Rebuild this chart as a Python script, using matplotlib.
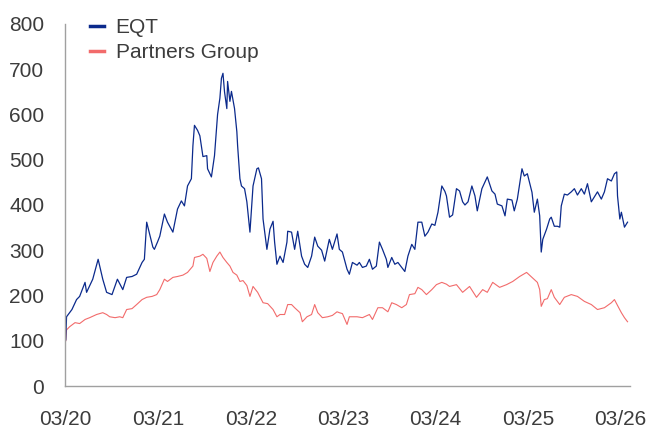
import matplotlib
matplotlib.use('Agg')
import matplotlib.pyplot as plt

# months since 03/2020
eqt_t = [0.0, 0.1, 0.8, 1.4, 1.8, 2.5, 2.7, 3.5, 4.2, 4.4, 4.8, 5.3, 6.0, 6.7, 7.4, 7.9,
         8.6, 9.2, 9.9, 10.2, 10.5, 10.9, 11.3, 11.5, 11.9, 12.2, 12.8, 13.2, 13.9, 14.5,
         15.0, 15.4, 15.8, 16.3, 16.5, 16.7, 17.1, 17.4, 17.8, 18.3, 18.4, 18.9, 19.3,
         19.6, 19.7, 20.0, 20.2, 20.4, 20.6, 20.9, 21.0, 21.3, 21.5, 21.9, 22.2, 22.3,
         22.6, 22.8, 23.2, 23.5, 23.9, 24.3, 24.8, 25.0, 25.4, 25.6, 26.1, 26.5, 26.9,
         27.1, 27.4, 27.8, 28.2, 28.7, 28.8, 29.3, 29.7, 30.1, 30.6, 31.0, 31.4, 31.9,
         32.3, 32.7, 33.2, 33.6, 34.2, 34.6, 35.2, 35.5, 35.9, 36.5, 36.8, 37.2, 37.8,
         38.1, 38.5, 39.0, 39.4, 39.8, 40.3, 40.7, 41.1, 41.6, 41.8, 42.3, 42.7, 43.1,
         43.6, 44.0, 44.4, 44.9, 45.3, 45.7, 46.2, 46.6, 47.0, 47.5, 47.9, 48.3, 48.8,
         49.2, 49.4, 49.8, 50.2, 50.7, 51.1, 51.5, 51.8, 52.2, 52.7, 53.1, 53.4, 54.0,
         54.3, 54.7, 55.3, 55.7, 56.0, 56.6, 57.0, 57.3, 57.9, 58.2, 58.6, 59.2, 59.5,
         59.9, 60.5, 60.8, 61.2, 61.5, 61.7, 61.9, 62.4, 62.8, 63.0, 63.4, 63.8, 64.1,
         64.3, 64.7, 65.1, 65.6, 66.0, 66.4, 66.9, 67.3, 67.7, 68.2, 68.6, 69.0, 69.5,
         69.9, 70.3, 70.8, 71.2, 71.5, 71.6, 71.9, 72.1, 72.5, 72.9]
eqt = [102, 153, 169, 191, 198, 229, 207, 236, 280, 265, 236, 207, 202, 236, 213, 240,
       242, 247, 273, 280, 362, 335, 307, 302, 318, 331, 380, 362, 340, 391,
       409, 398, 442, 458, 531, 576, 565, 553, 507, 509, 480, 462, 509,
       576, 600, 636, 680, 691, 650, 613, 673, 629, 651, 613, 562, 531,
       458, 442, 436, 407, 340, 442, 480, 482, 458, 369, 302, 347, 364,
       318, 269, 287, 273, 318, 342, 340, 302, 342, 287, 269, 262, 287,
       329, 309, 300, 276, 324, 302, 336, 302, 296, 258, 247, 273, 267,
       273, 262, 265, 280, 258, 265, 318, 302, 280, 262, 284, 269, 273,
       262, 253, 287, 313, 302, 362, 362, 331, 340, 358, 355, 384, 442,
       430, 420, 373, 378, 436, 431, 407, 400, 407, 442, 420, 387, 436,
       447, 462, 431, 424, 402, 398, 376, 413, 411, 387, 413, 480, 464,
       469, 428, 384, 413, 376, 296, 324, 347, 369, 373, 353, 353, 351,
       398, 424, 422, 429, 436, 422, 436, 424, 447, 407, 418, 429, 413,
       429, 458, 453, 469, 473, 420, 369, 384, 351, 362]

pg_t = [0.0, 0.1, 0.5, 1.2, 1.8, 2.5, 3.1, 4.0, 4.8, 5.3, 5.7, 6.4, 7.0, 7.4, 7.9, 8.6,
        9.2, 9.9, 10.5, 11.2, 11.8, 12.2, 12.8, 13.2, 13.9, 14.5, 15.2, 15.8, 16.5, 16.7,
        17.4, 17.8, 18.3, 18.7, 19.1, 19.6, 20.0, 20.4, 20.9, 21.3, 21.7, 22.2, 22.6,
        23.0, 23.5, 23.9, 24.3, 24.9, 25.6, 26.2, 26.9, 27.4, 27.8, 28.4, 28.8, 29.3,
        29.7, 30.4, 30.7, 31.3, 31.9, 32.3, 32.7, 33.3, 34.0, 34.6, 35.2, 35.5, 35.9,
        36.5, 36.8, 37.8, 38.5, 39.4, 39.8, 40.5, 41.1, 41.8, 42.3, 42.9, 43.6, 44.2,
        44.6, 45.3, 45.7, 46.2, 46.8, 47.5, 48.1, 48.8, 49.4, 49.8, 50.7, 51.5, 52.4,
        53.3, 54.1, 54.7, 55.4, 56.3, 57.2, 58.0, 58.9, 59.8, 60.5, 61.2, 61.5, 61.7,
        62.1, 62.5, 63.0, 63.4, 64.1, 64.7, 65.6, 66.4, 67.3, 68.2, 69.0, 69.9, 70.8,
        71.2, 71.6, 72.1, 72.5, 72.9]
pg = [100, 124, 131, 140, 138, 147, 151, 158, 162, 158, 153, 151, 153, 151, 169, 171,
      180, 191, 196, 198, 202, 213, 236, 231, 240, 242, 245, 251, 265, 284,
      287, 291, 282, 253, 273, 287, 296, 284, 273, 265, 251, 245, 231,
      233, 222, 198, 220, 207, 184, 182, 169, 153, 158, 158, 180, 180,
      173, 162, 142, 153, 158, 180, 162, 151, 153, 156, 164, 162, 160,
      136, 153, 153, 151, 158, 147, 173, 173, 164, 184, 180, 173, 180,
      202, 204, 218, 213, 202, 213, 224, 229, 225, 220, 224, 207, 220,
      196, 213, 207, 229, 218, 224, 231, 242, 251, 240, 229, 213, 176,
      191, 193, 213, 196, 180, 196, 202, 198, 187, 180, 169, 173, 184,
      191, 178, 162, 151, 142]

tick_pos = [0, 12, 24, 36, 48, 60, 72]
tick_lab = ['03/20', '03/21', '03/22', '03/23', '03/24', '03/25', '03/26']

plt.rcParams['font.family'] = ['Liberation Sans', 'DejaVu Sans']
txt = '#3c3c3c'

fig = plt.figure(figsize=(6.5, 4.3), dpi=100)
ax = fig.add_axes([0.1, 0.1023, 0.869, 0.842])

ax.plot(pg_t, pg, color='#f26b6b', lw=0.8, label='Partners Group')
ax.plot(eqt_t, eqt, color='#0b2a8c', lw=0.9, label='EQT')

ax.set_xlim(-0.1, 73.2)
ax.set_ylim(0, 800)
ax.set_yticks(range(0, 801, 100))
ax.set_xticks(tick_pos)
ax.set_xticklabels(tick_lab)

for s in ['top', 'right']:
    ax.spines[s].set_visible(False)
for s in ['left', 'bottom']:
    ax.spines[s].set_color('#a0a0a0')
    ax.spines[s].set_linewidth(1.0)

ax.tick_params(axis='both', length=0, labelsize=15, labelcolor=txt)
ax.tick_params(axis='y', pad=15)
ax.tick_params(axis='x', pad=17)

h, l = ax.get_legend_handles_labels()
leg = fig.legend(h[::-1], l[::-1], loc='upper left', bbox_to_anchor=(0.138, 0.957),
                 frameon=False, fontsize=15, handlelength=0.7, handletextpad=0.55,
                 labelspacing=0.27, borderpad=0, borderaxespad=0)
for t in leg.get_texts():
    t.set_color(txt)
for ln in leg.get_lines():
    ln.set_linewidth(2.5)

fig.savefig('out.png', dpi=100)
